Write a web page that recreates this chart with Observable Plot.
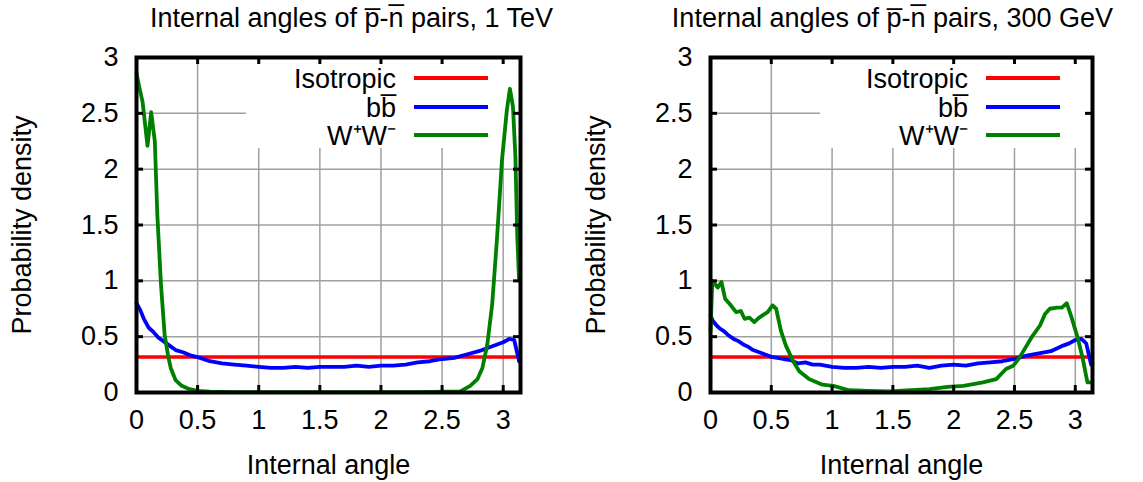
<!DOCTYPE html>
<html><head><meta charset="utf-8">
<script src="https://cdn.jsdelivr.net/npm/d3@7"></script>
<script src="https://cdn.jsdelivr.net/npm/@observablehq/plot@0.6"></script>
<style>
html,body{margin:0;padding:0;background:#fff;}
#wrap{display:flex;width:1143px;height:482px;overflow:hidden;}
svg{display:block;}
</style></head><body><div id="wrap"></div>
<script>
// ---------- data ----------
const xTicks = [0, 0.5, 1, 1.5, 2, 2.5, 3];
const yTicks = [0, 0.5, 1, 1.5, 2, 2.5, 3];
const gridXTicks = [0.5, 1, 1.5, 2, 2.5, 3];
const gridYTicks = [0.5, 1, 1.5, 2, 2.5];
const xMax = 3.1416;
const seriesNames = ["Isotropic", "bb\u0305", "W\u207AW\u207B"];
const seriesColors = ["#ff0000", "#0000ff", "#008000"];
const titles = ["Internal angles of p\u0305-n\u0305 pairs, 1 TeV", "Internal angles of p\u0305-n\u0305 pairs, 300 GeV"];
const xLabel = "Internal angle";
const yLabel = "Probability density";

// Isotropic density (1/pi)
const isoX = [0, 3.1416];
const isoY = [0.3183, 0.3183];

// 1 TeV
const tevBbX = [0, 0.03, 0.06, 0.1, 0.14, 0.18, 0.22, 0.27, 0.32, 0.38, 0.45, 0.52, 0.6, 0.7, 0.8, 0.9, 1.0, 1.1, 1.2, 1.3, 1.4, 1.5, 1.6, 1.7, 1.8, 1.9, 2.0, 2.1, 2.2, 2.3, 2.4, 2.5, 2.6, 2.7, 2.8, 2.9, 2.95, 3.0, 3.05, 3.09, 3.13];
const tevBbY = [0.80, 0.74, 0.66, 0.58, 0.54, 0.49, 0.46, 0.42, 0.38, 0.36, 0.33, 0.31, 0.28, 0.26, 0.25, 0.24, 0.23, 0.22, 0.22, 0.23, 0.22, 0.23, 0.23, 0.23, 0.24, 0.23, 0.24, 0.24, 0.25, 0.27, 0.28, 0.30, 0.31, 0.34, 0.37, 0.41, 0.43, 0.45, 0.48, 0.47, 0.28];
const tevWwX = [0, 0.02, 0.05, 0.09, 0.12, 0.15, 0.17, 0.20, 0.23, 0.26, 0.28, 0.32, 0.37, 0.42, 0.5, 0.6, 0.8, 1.0, 1.5, 2.0, 2.3, 2.54, 2.65, 2.73, 2.79, 2.83, 2.87, 2.91, 2.95, 2.99, 3.03, 3.055, 3.08, 3.10, 3.115, 3.13];
const tevWwY = [2.86, 2.75, 2.60, 2.21, 2.51, 2.25, 1.60, 0.97, 0.52, 0.32, 0.22, 0.11, 0.06, 0.035, 0.015, 0.008, 0.004, 0.003, 0.003, 0.003, 0.004, 0.007, 0.01, 0.06, 0.12, 0.22, 0.43, 0.79, 1.39, 2.08, 2.53, 2.72, 2.56, 2.11, 1.40, 1.0];

// 300 GeV
const gevBbX = [0, 0.02, 0.05, 0.08, 0.11, 0.15, 0.19, 0.23, 0.27, 0.31, 0.35, 0.4, 0.45, 0.5, 0.55, 0.6, 0.66, 0.72, 0.78, 0.84, 0.9, 1.0, 1.1, 1.2, 1.3, 1.4, 1.5, 1.6, 1.7, 1.8, 1.9, 2.0, 2.1, 2.2, 2.3, 2.4, 2.5, 2.6, 2.7, 2.8, 2.9, 2.95, 3.0, 3.05, 3.09, 3.13];
const gevBbY = [0.69, 0.64, 0.60, 0.57, 0.55, 0.51, 0.48, 0.46, 0.43, 0.41, 0.38, 0.36, 0.34, 0.32, 0.31, 0.30, 0.29, 0.26, 0.27, 0.25, 0.25, 0.23, 0.22, 0.22, 0.23, 0.22, 0.23, 0.23, 0.24, 0.22, 0.24, 0.25, 0.24, 0.26, 0.27, 0.28, 0.30, 0.33, 0.35, 0.37, 0.42, 0.44, 0.47, 0.48, 0.44, 0.25];
const gevWwX = [0, 0.015, 0.03, 0.06, 0.09, 0.12, 0.16, 0.21, 0.25, 0.28, 0.32, 0.36, 0.40, 0.44, 0.47, 0.51, 0.54, 0.58, 0.62, 0.68, 0.73, 0.81, 0.92, 1.01, 1.14, 1.3, 1.47, 1.65, 1.8, 1.95, 2.08, 2.24, 2.35, 2.43, 2.49, 2.54, 2.60, 2.65, 2.71, 2.75, 2.79, 2.85, 2.89, 2.93, 2.97, 3.02, 3.06, 3.10, 3.12];
const gevWwY = [0.55, 1.0, 0.98, 0.94, 0.99, 0.84, 0.79, 0.72, 0.73, 0.66, 0.67, 0.63, 0.67, 0.70, 0.72, 0.78, 0.75, 0.55, 0.42, 0.28, 0.19, 0.12, 0.07, 0.06, 0.02, 0.015, 0.01, 0.02, 0.03, 0.05, 0.06, 0.09, 0.12, 0.21, 0.24, 0.31, 0.42, 0.51, 0.60, 0.70, 0.75, 0.76, 0.76, 0.80, 0.67, 0.49, 0.31, 0.09, 0.09];

// ---------- drawing ----------
const FONT = "'Liberation Sans', Arial, Helvetica, sans-serif";
const H = 482, MT = 57, MB = 90;
const svgNS = "http://www.w3.org/2000/svg";
const pts = (xs, ys) => xs.map((x, i) => ({x, y: ys[i]}));
const fmt = d => String(d);

function panel(cfg) {
  const W = cfg.width, ML = cfg.ml, MR = cfg.mr;
  const FW = W - ML - MR, FH = H - MT - MB;
  const FR = W - MR;
  const legendBox = () => {
    const r = document.createElementNS(svgNS, "rect");
    r.setAttribute("x", ML + 110); r.setAttribute("y", MT);
    r.setAttribute("width", FR - ML - 110); r.setAttribute("height", 91);
    r.setAttribute("fill", "white");
    return r;
  };
  const legend = () => {
    const g = d3.create("svg:g");
    const rows = [21, 50, 78];
    seriesNames.forEach((name, i) => {
      const cy = MT + rows[i];
      g.append("line").attr("x1", FR - 106).attr("x2", FR - 32).attr("y1", cy).attr("y2", cy)
        .attr("stroke", seriesColors[i]).attr("stroke-width", 4);
      g.append("text").attr("x", FR - 124).attr("y", cy + 9.5).attr("text-anchor", "end")
        .attr("font-family", FONT).attr("font-size", 27).attr("fill", "black").text(name);
    });
    return g.node();
  };
  const line = (xs, ys, color, sw) => Plot.line(pts(xs, ys), {x: "x", y: "y", stroke: color, strokeWidth: sw});
  return Plot.plot({
    width: W, height: H, marginLeft: ML, marginRight: MR, marginTop: MT, marginBottom: MB,
    x: {domain: [0, xMax]},
    y: {domain: [0, 3]},
    style: {fontFamily: FONT, fontSize: "27px", background: "white", color: "black", overflow: "visible"},
    marks: [
      Plot.gridX(gridXTicks, {stroke: "#a0a0a0", strokeOpacity: 1, strokeWidth: 1.5}),
      Plot.gridY(gridYTicks, {stroke: "#a0a0a0", strokeOpacity: 1, strokeWidth: 1.5}),
      legendBox,
      line(isoX, isoY, seriesColors[0], 3.5),
      line(cfg.bbX, cfg.bbY, seriesColors[1], 3.8),
      line(cfg.wwX, cfg.wwY, seriesColors[2], 3.8),
      Plot.frame({stroke: "black", strokeWidth: 4}),
      Plot.tickX(xTicks, {x: d => d, stroke: "black", strokeWidth: 3, insetTop: FH - 7}),
      Plot.tickX(xTicks, {x: d => d, stroke: "black", strokeWidth: 3, insetBottom: FH - 7}),
      Plot.tickY(yTicks, {y: d => d, stroke: "black", strokeWidth: 3, insetRight: FW - 7}),
      Plot.tickY(yTicks, {y: d => d, stroke: "black", strokeWidth: 3, insetLeft: FW - 7}),
      Plot.axisX({ticks: xTicks, tickFormat: fmt, tickSize: 0, tickPadding: 17, label: null, fontSize: 27}),
      Plot.axisY({ticks: yTicks, tickFormat: fmt, tickSize: 0, tickPadding: 18, label: null, fontSize: 27}),
      Plot.text([xLabel], {frameAnchor: "bottom", dy: 81, lineAnchor: "bottom", fontSize: 27}),
      Plot.text([yLabel], {frameAnchor: "left", dx: -114, rotate: -90, textAnchor: "middle", lineAnchor: "middle", fontSize: 27}),
      Plot.text([cfg.title], {frameAnchor: "top", dx: cfg.titleDx, dy: -31, textAnchor: "middle", lineAnchor: "bottom", fontSize: 27}),
      legend
    ]
  });
}

const wrap = document.getElementById("wrap");
wrap.appendChild(panel({width: 571, ml: 136, mr: 51, titleDx: 23, title: titles[0], bbX: tevBbX, bbY: tevBbY, wwX: tevWwX, wwY: tevWwY}));
wrap.appendChild(panel({width: 572, ml: 139, mr: 51, titleDx: -9, title: titles[1], bbX: gevBbX, bbY: gevBbY, wwX: gevWwX, wwY: gevWwY}));
</script></body></html>
